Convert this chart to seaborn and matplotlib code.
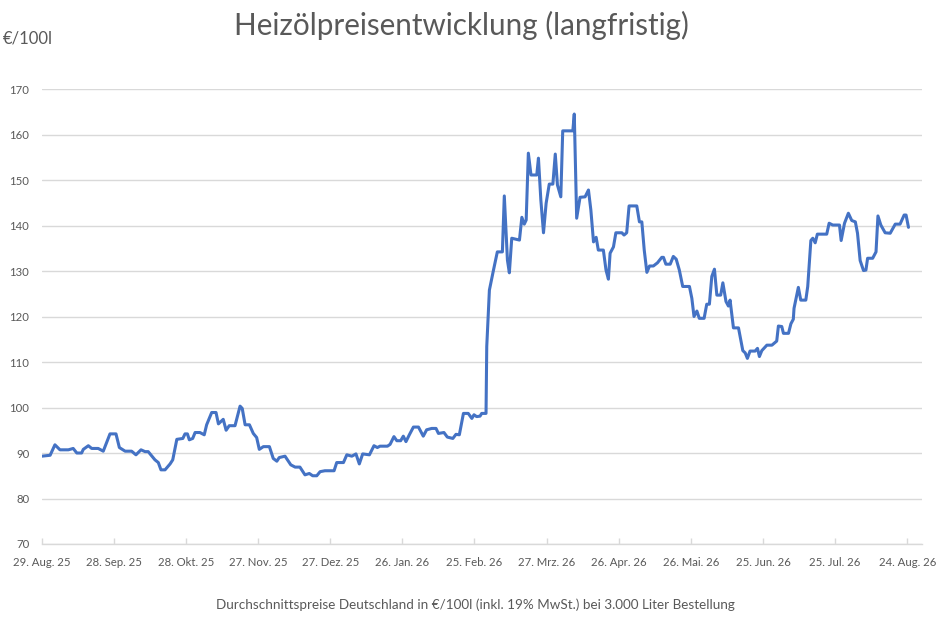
import matplotlib
matplotlib.use("Agg")
import matplotlib.pyplot as plt
import seaborn as sns
import pandas as pd
import numpy as np

start_date = "2025-08-29"

# day offsets from start date
day_offsets = [
    0, 3.5, 5.5, 7.6, 11.1, 13.1, 14.6, 16.6, 17.3, 19.4, 20.8, 23.5, 25.6, 28.4, 30.9,
    32.3, 34.7, 37.4, 39.2, 41.3, 43.0, 44.3, 47.1, 48.5, 49.6, 51.3, 53.4, 54.5, 56.2,
    58.7, 59.6, 60.6, 61.4, 62.8, 63.8, 65.8, 67.6, 68.6, 70.7, 72.5, 73.5, 75.5, 76.7,
    78.0, 80.4, 82.5, 83.4, 84.6, 86.4, 88.0, 89.4, 90.5, 92.2, 94.7, 96.3, 97.8, 98.8,
    101.2, 103.6, 105.4, 107.4, 109.5, 111.3, 112.7, 114.4, 115.8, 117.8, 121.6, 122.7,
    125.5, 126.9, 129.0, 130.7, 132.1, 133.5, 136.3, 138.2, 139.6, 140.7, 143.8, 144.9,
    146.5, 147.7, 149.3, 150.4, 151.5, 152.9, 154.6, 156.7, 158.7, 160.1, 162.2, 164.0,
    165.0, 167.3, 168.7, 171.0, 172.3, 173.7, 175.4, 177.4, 178.9, 179.8, 180.9, 182.3,
    183.0, 184.8, 185.1, 186.2, 187.9, 189.5, 191.6, 192.4, 193.7, 194.5, 195.5, 198.7,
    199.7, 200.7, 201.5, 202.4, 203.5, 205.9, 206.6, 207.6, 208.7, 209.8, 211.1, 212.6,
    213.6, 214.5, 215.9, 216.7, 220.9, 221.5, 222.5, 223.9, 226.0, 227.4, 228.4, 229.5,
    230.6, 231.5, 233.6, 234.7, 235.7, 236.4, 237.8, 238.8, 241.3, 242.2, 243.3, 244.3,
    247.5, 248.6, 249.6, 250.6, 251.7, 252.8, 254.4, 256.1, 257.9, 258.6, 259.6, 261.4,
    262.7, 263.9, 265.2, 266.6, 269.4, 270.4, 271.3, 272.5, 273.5, 275.5, 276.6, 277.7,
    278.7, 279.8, 280.8, 282.4, 283.3, 284.6, 285.6, 286.3, 287.7, 289.8, 291.6, 292.6,
    293.5, 294.6, 296.7, 297.7, 298.5, 299.5, 301.6, 303.7, 305.7, 306.4, 307.8, 308.5,
    310.6, 311.6, 312.6, 312.9, 314.7, 315.7, 317.8, 318.6, 319.9, 320.7, 321.7, 322.6,
    326.5, 327.5, 329.0, 331.8, 332.5, 333.9, 335.5, 336.9, 338.4, 339.3, 340.4, 341.8,
    342.8, 343.5, 345.6, 347.0, 347.8, 349.0, 350.8, 352.9, 355.0, 357.0, 358.7, 359.5,
    360.5,
]

# prices in EUR per 100 l
price = [
    89.3, 89.5, 91.8, 90.7, 90.7, 91.0, 90.0, 90.0, 90.8, 91.6, 91.0, 91.0, 90.4, 94.2, 94.2,
    91.2, 90.4, 90.4, 89.6, 90.7, 90.3, 90.3, 88.5, 87.9, 86.3, 86.3, 87.6, 88.5, 93.0,
    93.2, 94.2, 94.2, 92.9, 93.2, 94.5, 94.5, 94.0, 96.2, 98.9, 98.9, 96.4, 97.4, 95.0,
    96.0, 96.0, 100.3, 99.8, 96.2, 96.2, 94.3, 93.4, 90.8, 91.4, 91.4, 88.8, 88.2, 89.0,
    89.3, 87.4, 86.9, 86.9, 85.2, 85.5, 85.0, 85.0, 85.9, 86.1, 86.1, 87.9,
    87.9, 89.6, 89.3, 89.8, 87.6, 89.8, 89.6, 91.6, 91.2, 91.5, 91.5, 91.9,
    93.6, 92.7, 92.7, 93.7, 92.5, 94.0, 95.7, 95.7, 93.7, 95.1, 95.4, 95.4,
    94.3, 94.5, 93.5, 93.2, 94.1, 94.0, 98.7, 98.7, 97.6, 98.4, 98.0, 98.1,
    98.7, 98.7, 113.4, 125.8, 130.2, 134.2, 134.2, 146.5, 132.4, 129.6, 137.2, 136.8,
    141.8, 140.3, 141.2, 155.9, 151.1, 151.1, 154.8, 145.6, 138.4, 144.9, 149.1, 149.1,
    155.7, 148.9, 146.3, 160.8, 160.8, 164.5, 141.6, 146.2, 146.3, 147.8, 143.4, 136.4,
    137.4, 134.6, 134.6, 130.2, 128.2, 133.9, 135.3, 138.4, 138.4, 137.9, 138.4, 144.3,
    144.3, 140.8, 140.8, 134.6, 129.7, 131.1, 131.1, 131.8, 133.0, 133.0, 131.5, 131.5,
    133.2, 132.6, 130.2, 126.6, 126.6, 124.0, 120.0, 121.2, 119.6, 119.6, 122.7, 122.7,
    128.8, 130.4, 124.7, 124.7, 127.4, 123.3, 122.3, 123.6, 117.5, 117.5, 112.5, 112.0,
    110.8, 112.4, 112.4, 113.0, 111.2, 112.5, 113.7, 113.7, 114.6, 117.9, 117.8, 116.3,
    116.3, 118.4, 119.4, 121.8, 126.4, 123.6, 123.6, 126.6, 136.7, 137.2, 136.2, 138.1,
    138.1, 140.5, 140.1, 140.1, 136.7, 140.5, 142.7, 141.1, 140.8, 138.3, 132.3, 130.1,
    130.2, 132.8, 132.8, 134.2, 142.1, 140.1, 138.4, 138.3, 140.3, 140.3, 142.3, 142.3,
    139.6,
]

tick_labels = [
    "29. Aug. 25", "28. Sep. 25", "28. Okt. 25", "27. Nov. 25", "27. Dez. 25",
    "26. Jan. 26", "25. Feb. 26", "27. Mrz. 26", "26. Apr. 26", "26. Mai. 26",
    "25. Jun. 26", "25. Jul. 26", "24. Aug. 26",
]
y_ticks = [70, 80, 90, 100, 110, 120, 130, 140, 150, 160, 170]

title = "Heizölpreisentwicklung (langfristig)"
unit_label = "€/100l"
caption = "Durchschnittspreise Deutschland in €/100l (inkl. 19% MwSt.) bei 3.000 Liter Bestellung"

sns.set_theme(style="white")
plt.rcParams["font.family"] = ["Lato", "DejaVu Sans"]

t0 = pd.Timestamp(start_date)
df = pd.DataFrame({
    "date": t0 + pd.to_timedelta(day_offsets, unit="D"),
    "price": price,
})

text_col = "#595959"
grid_col = "#D9D9D9"

fig = plt.figure(figsize=(9.42, 6.18), dpi=100)
ax = fig.add_axes([41.7 / 942, 1 - 544 / 618, 880 / 942, (544 - 89) / 618])

sns.lineplot(data=df, x="date", y="price", ax=ax, color="#4472C4", linewidth=2.2, sort=False)

tick_dates = [t0 + pd.Timedelta(days=30 * i) for i in range(len(tick_labels))]
ax.set_xticks(tick_dates)
ax.set_xticklabels(tick_labels)
ax.set_xlim(t0, t0 + pd.Timedelta(days=366))
ax.set_ylim(70, 170)
ax.set_yticks(y_ticks)
ax.set_yticklabels([str(v) for v in y_ticks])

ax.grid(axis="y", color=grid_col, linewidth=1)
ax.grid(axis="x", visible=False)
for s in ["top", "right", "left"]:
    ax.spines[s].set_visible(False)
ax.spines["bottom"].set_color(grid_col)
ax.spines["bottom"].set_linewidth(1)
ax.set_axisbelow(True)

ax.tick_params(axis="x", direction="in", length=4, width=1, color=grid_col,
               labelsize=8.2, labelcolor=text_col, pad=9, bottom=True)
ax.tick_params(axis="y", length=0, labelsize=8.2, labelcolor=text_col, pad=9)
ax.set_xlabel("")
ax.set_ylabel("")

fig.text(0.49, 1 - 25 / 618, title, ha="center", va="center", fontsize=21.3, color=text_col)
fig.text(3 / 942, 1 - 38 / 618, unit_label, ha="left", va="center", fontsize=12, color=text_col)
fig.text(475 / 942, 1 - 605 / 618, caption, ha="center", va="center", fontsize=9.7, color=text_col)

fig.savefig("out.png", dpi=100)
